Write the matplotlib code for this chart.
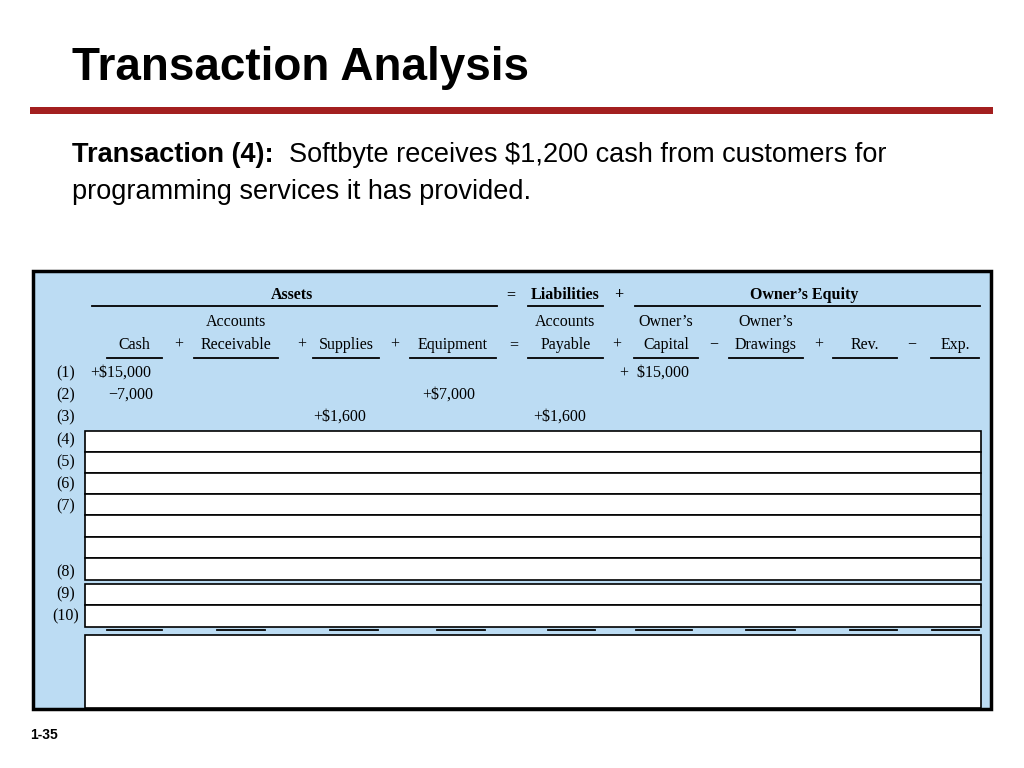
import matplotlib
matplotlib.use("Agg")
import matplotlib.pyplot as plt
from matplotlib.patches import Rectangle
import matplotlib.transforms as mtrans

title = "Transaction Analysis"
subtitle_bold = "Transaction (4):"
subtitle_rest = "  Softbyte receives $1,200 cash from customers for"
subtitle_line2 = "programming services it has provided."
slide_no = "1-35"

groups = ["Assets", "Liabilities", "Owner\u2019s Equity"]
col_top = ["", "Accounts", "", "", "Accounts", "Owner\u2019s", "Owner\u2019s", "", ""]
col_bottom = ["Cash", "Receivable", "Supplies", "Equipment", "Payable", "Capital", "Drawings", "Rev.", "Exp."]
operators = ["+", "+", "+", "=", "+", "\u2212", "+", "\u2212"]
row_labels = ["(1)", "(2)", "(3)", "(4)", "(5)", "(6)", "(7)", "(8)", "(9)", "(10)"]
entries = [  # (row index, column index, text)
    (0, 0, "+$15,000"), (0, 5, "+  $15,000"),
    (1, 0, "\u22127,000"), (1, 3, "+$7,000"),
    (2, 2, "+$1,600"), (2, 4, "+$1,600"),
]

# layout (pixels)
col_x = [(107, 162), (194, 278), (313, 379), (410, 496), (528, 603), (634, 698), (729, 803), (833, 897), (931, 979)]
total_x = [(107, 162), (217, 265), (330, 378), (437, 485), (548, 595), (636, 692), (746, 795), (850, 897), (932, 979)]
op_x = [179, 302, 395, 514, 617, 714, 819, 912]
row_y = [373, 395, 417, 440, 462, 484, 506, 572, 594, 616]

fig = plt.figure(figsize=(10.24, 7.68), dpi=100)
ax = fig.add_axes([0, 0, 1, 1])
ax.set_xlim(0, 1024); ax.set_ylim(768, 0); ax.axis("off")

sans = "Liberation Sans"; serif = "Liberation Serif"
ax.text(72, 68, title, fontsize=33, fontweight="bold", family=sans, va="center")
ax.add_patch(Rectangle((30, 107), 963, 7, color="#A31F1F", lw=0))
t = ax.text(72, 155, subtitle_bold, fontsize=19.5, fontweight="bold", family=sans, va="center")
fig.canvas.draw()
x_end = t.get_window_extent().x1
ax.text(x_end, 155, subtitle_rest, fontsize=19.5, family=sans, va="center",
        transform=mtrans.blended_transform_factory(mtrans.IdentityTransform(), ax.transData))
ax.text(72, 192, subtitle_line2, fontsize=19.5, family=sans, va="center")
ax.text(30, 735, slide_no, fontsize=10, fontweight="bold", family=sans, va="center")

ax.add_patch(Rectangle((33, 271), 958, 438, facecolor="#BCDCF3", edgecolor="black", lw=2.5))

fs = 11.5
ax.plot([92, 497], [306, 306], color="black", lw=1.3)
ax.plot([528, 603], [306, 306], color="black", lw=1.3)
ax.plot([635, 980], [306, 306], color="black", lw=1.3)
ax.text(292, 295, groups[0], fontsize=fs, fontweight="bold", family=serif, ha="center", va="center")
ax.text(511, 295, "=", fontsize=fs, fontweight="bold", family=serif, ha="center", va="center")
ax.text(565, 295, groups[1], fontsize=fs, fontweight="bold", family=serif, ha="center", va="center")
ax.text(619, 295, "+", fontsize=fs, fontweight="bold", family=serif, ha="center", va="center")
ax.text(804, 295, groups[2], fontsize=fs, fontweight="bold", family=serif, ha="center", va="center")

for (x0, x1), top, bot in zip(col_x, col_top, col_bottom):
    c = (x0 + x1) / 2
    if top:
        ax.text(c, 322, top, fontsize=fs, family=serif, ha="center", va="center")
    ax.text(c, 345, bot, fontsize=fs, family=serif, ha="center", va="center")
    ax.plot([x0, x1], [358, 358], color="black", lw=1.3)
for x0, x1 in total_x:
    ax.plot([x0, x1], [630, 630], color="black", lw=1.3)
for x, op in zip(op_x, operators):
    ax.text(x, 345, op, fontsize=fs, family=serif, ha="center", va="center")

for lab, y in zip(row_labels, row_y):
    ax.text(66, y, lab, fontsize=fs, family=serif, ha="center", va="center")

start_x = {0: 90, 2: 313, 3: 422, 4: 533, 5: 620}
for r, c, txt in entries:
    x = start_x[c] if not (r == 1 and c == 0) else 108
    ax.text(x, row_y[r], txt, fontsize=fs, family=serif, ha="left", va="center")

boxes = [(431, 452), (452, 473), (473, 494), (494, 515), (515, 537), (537, 558), (558, 580),
         (584, 605), (605, 627), (635, 708)]
for y0, y1 in boxes:
    ax.add_patch(Rectangle((85, y0), 896, y1 - y0, facecolor="white", edgecolor="black", lw=1.2))

fig.savefig("out.png", dpi=100)
